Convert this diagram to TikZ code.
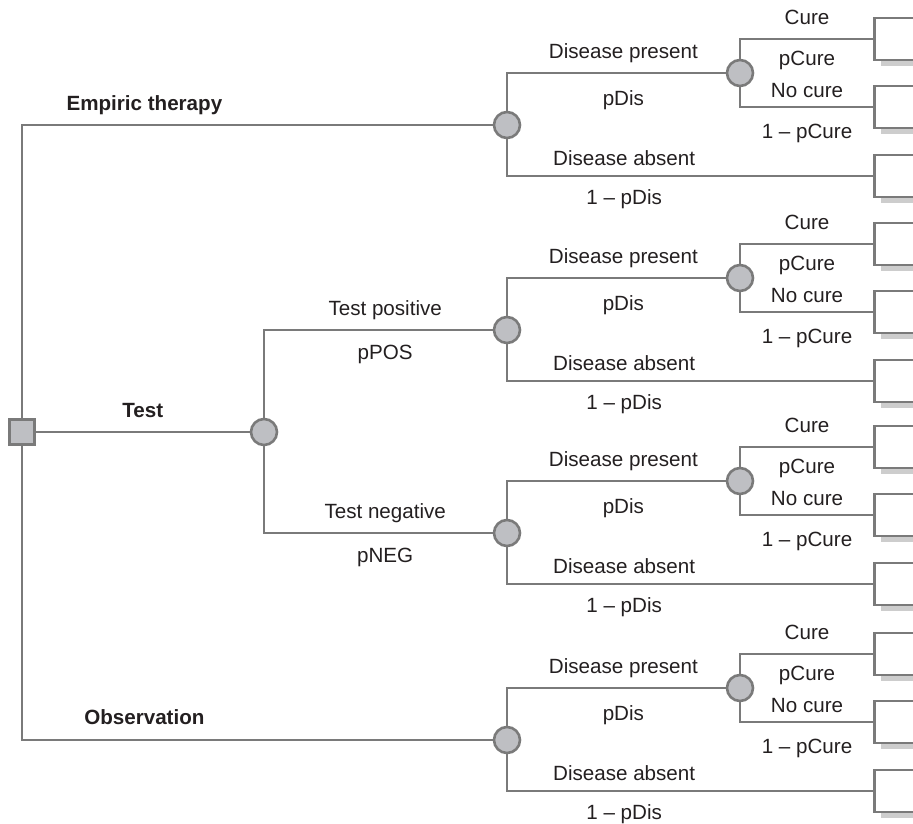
\documentclass[tikz,border=0pt]{standalone}
\usepackage{fontspec}
\setmainfont{Liberation Sans}
\usetikzlibrary{shadows}

\definecolor{treeline}{HTML}{7A7A7A}
\definecolor{nodefill}{HTML}{BEBFC3}
\definecolor{shadowgray}{HTML}{CDCDCD}
\definecolor{labeltext}{HTML}{231F20}

\begin{document}
\begin{tikzpicture}[x=0.5pt,y=-0.5pt,line width=1.3pt,color=treeline,
                    every node/.style={font=\fontsize{10.3}{12}\selectfont,text=labeltext}]
  \tikzstyle{decision}=[draw=treeline,fill=nodefill,minimum size=12.5pt,inner sep=0]
  \tikzstyle{chance}=[circle,draw=treeline,fill=nodefill,minimum size=13pt,inner sep=0]
  \tikzstyle{terminal}=[draw=treeline,fill=white,anchor=west,inner sep=0,
                        minimum width=40pt,minimum height=21pt,
                        drop shadow={shadow xshift=3.5pt,shadow yshift=-3pt,
                                     fill=shadowgray,opacity=1}]
  \tikzset{up/.style={above=#1,inner sep=0,text height=.75em,text depth=.25em},
           up/.default=3.9pt,
           down/.style={below=#1,inner sep=0,text height=.75em,text depth=.25em},
           down/.default=7.5pt}

  \useasboundingbox (0,0) rectangle (913,823);
  \clip (0,0) rectangle (913,823);

  % decision and first chance nodes
  \node[decision] (dec) at (22,432) {};
  \node[chance]   (tst) at (264,432) {};
  \node[chance]   (emp) at (507,125) {};
  \node[chance]   (pos) at (507,330) {};
  \node[chance]   (neg) at (507,533) {};
  \node[chance]   (obs) at (507,740) {};

  \draw (dec) |- (emp) node[up,pos=.63] {\bfseries Empiric therapy};
  \draw (dec) -- (tst) node[up=4.3pt,midway] {\bfseries Test};
  \draw (dec) |- (obs) node[up=4.6pt,pos=.63] {\bfseries Observation};

  \draw (tst) |- (pos) node[up,pos=.765] {Test positive}
                       node[down=6.6pt,pos=.765] {pPOS};
  \draw (tst) |- (neg) node[up,pos=.765] {Test negative}
                       node[down=6.6pt,pos=.765] {pNEG};

  % same disease / cure subtree behind each strategy
  \foreach \n/\y in {emp/125,pos/330,neg/533,obs/740}{
    \node[chance]   (\n-d) at (740,\y-52) {};
    \node[terminal] (\n-c) at (873,\y-86) {};
    \node[terminal] (\n-n) at (873,\y-18) {};
    \node[terminal] (\n-a) at (873,\y+51) {};

    \draw (\n) |- (\n-d) node[up,pos=.766] {Disease present}
                         node[down=8pt,pos=.766] {pDis};
    \draw (\n) |- (\n-a) node[up=1.9pt,pos=.66] {Disease absent}
                         node[down=6.1pt,pos=.66] {1 -- pDis};
    \draw (\n-d) |- (\n-c) node[up,pos=.752] {Cure}
                           node[down=5pt,pos=.752] {pCure};
    \draw (\n-d) |- (\n-n) node[up=1.4pt,pos=.752] {No cure}
                           node[down=7.6pt,pos=.752] {1 -- pCure};
  }
\end{tikzpicture}
\end{document}
